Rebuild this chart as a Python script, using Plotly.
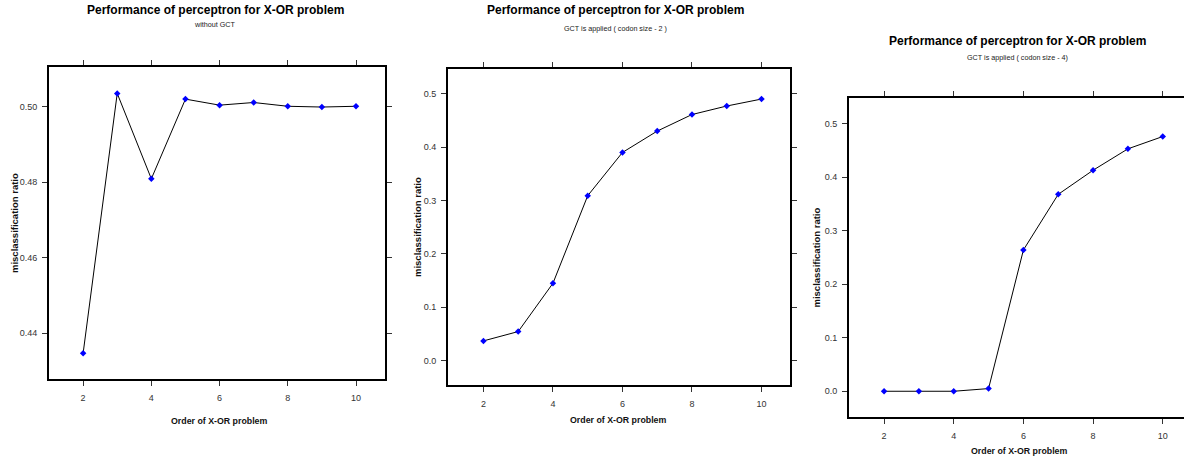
import plotly.graph_objects as go

# ---------------- data ----------------
order = [2, 3, 4, 5, 6, 7, 8, 9, 10]
ratio_without_gct = [0.4347, 0.5035, 0.4809, 0.5020, 0.5004, 0.5011, 0.5001, 0.4999, 0.5001]
ratio_gct_codon2 = [0.037, 0.0545, 0.145, 0.309, 0.390, 0.430, 0.461, 0.477, 0.490]
ratio_gct_codon4 = [0.0, 0.0, 0.0, 0.005, 0.264, 0.368, 0.413, 0.453, 0.476]

main_title = "Performance of perceptron for X-OR problem"
subtitles = ["without GCT", "GCT is applied ( codon size - 2 )", "GCT is applied ( codon size - 4)"]
x_title = "Order of X-OR problem"
y_title = "misclassification ratio"
x_ticks = [2, 4, 6, 8, 10]
y_ticks_1 = [0.44, 0.46, 0.48, 0.50]
y_ticks_23 = [0.0, 0.1, 0.2, 0.3, 0.4, 0.5]

W, H = 1184, 459
FONT = "Liberation Sans, Arial, sans-serif"


def px_x(v):
    return v / W


def px_y(v):
    return 1 - v / H


# panel geometry in pixels: left, right, top, bottom ; axis ranges
panels = [
    dict(l=49, r=385, t=67, b=379, xr=[1.0, 10.85], yr=[0.4279, 0.5105],
         y=ratio_without_gct, yt=y_ticks_1, yfmt=".2f", mirror_y=True,
         title_y=10, sub_y=25, cx=215, ytx=14, xty=421),
    dict(l=448, r=790, t=69, b=385, xr=[0.98, 10.82], yr=[-0.0456, 0.5463],
         y=ratio_gct_codon2, yt=y_ticks_23, yfmt=".1f", mirror_y=True,
         title_y=10, sub_y=28, cx=615, ytx=417, xty=420),
    dict(l=849, r=1184, t=98, b=417, xr=[0.994, 10.61], yr=[-0.0481, 0.548],
         y=ratio_gct_codon4, yt=y_ticks_23, yfmt=".1f", mirror_y=False,
         title_y=41, sub_y=57, cx=1017, ytx=816, xty=451),
]

fig = go.Figure()
annotations = []
layout = {}
for i, p in enumerate(panels):
    n = "" if i == 0 else str(i + 1)
    fig.add_trace(go.Scatter(
        x=order, y=p["y"], mode="lines+markers",
        line=dict(color="black", width=1),
        marker=dict(color="blue", size=5, symbol="diamond"),
        xaxis="x" + n, yaxis="y" + n, showlegend=False, cliponaxis=False,
    ))
    layout["xaxis" + n] = dict(
        domain=[px_x(p["l"]), px_x(p["r"])], range=p["xr"], anchor="y" + n,
        tickvals=x_ticks, ticks="outside", ticklen=5, tickwidth=1, tickcolor="#333",
        showline=True, linecolor="black", linewidth=2, mirror="ticks",
        showgrid=False, zeroline=False,
        tickfont=dict(family=FONT, size=9, color="#333"),
        ticklabelstandoff=4,
    )
    layout["yaxis" + n] = dict(
        domain=[px_y(p["b"]), px_y(p["t"])], range=p["yr"], anchor="x" + n,
        tickvals=p["yt"], tickformat=p["yfmt"], ticks="outside", ticklen=5, tickwidth=1,
        tickcolor="#333", showline=True, linecolor="black", linewidth=2,
        mirror="ticks" if p["mirror_y"] else False,
        showgrid=False, zeroline=False,
        tickfont=dict(family=FONT, size=9, color="#333"),
        ticklabelstandoff=3,
    )
    annotations.append(dict(
        text="<b>" + main_title + "</b>", x=px_x(p["cx"]), y=px_y(p["title_y"]),
        xref="paper", yref="paper", showarrow=False, xanchor="center", yanchor="middle",
        font=dict(family=FONT, size=12, color="black")))
    annotations.append(dict(
        text=subtitles[i], x=px_x(p["cx"]), y=px_y(p["sub_y"]),
        xref="paper", yref="paper", showarrow=False, xanchor="center", yanchor="middle",
        font=dict(family=FONT, size=7.2, color="#222")))
    annotations.append(dict(
        text="<b>" + x_title + "</b>", x=px_x((p["l"] + min(p["r"], p["l"] + 336)) / 2 + 2),
        y=px_y(p["xty"]),
        xref="paper", yref="paper", showarrow=False, xanchor="center", yanchor="middle",
        font=dict(family=FONT, size=8.8, color="#111")))
    annotations.append(dict(
        text="<b>" + y_title + "</b>", x=px_x(p["ytx"]), y=px_y((p["t"] + p["b"]) / 2),
        xref="paper", yref="paper", showarrow=False, xanchor="center", yanchor="middle",
        textangle=-90, font=dict(family=FONT, size=9.5, color="#111")))

fig.update_layout(
    width=W, height=H, margin=dict(l=0, r=0, t=0, b=0),
    paper_bgcolor="white", plot_bgcolor="white",
    annotations=annotations, **layout,
)
fig.write_html("out.html")
